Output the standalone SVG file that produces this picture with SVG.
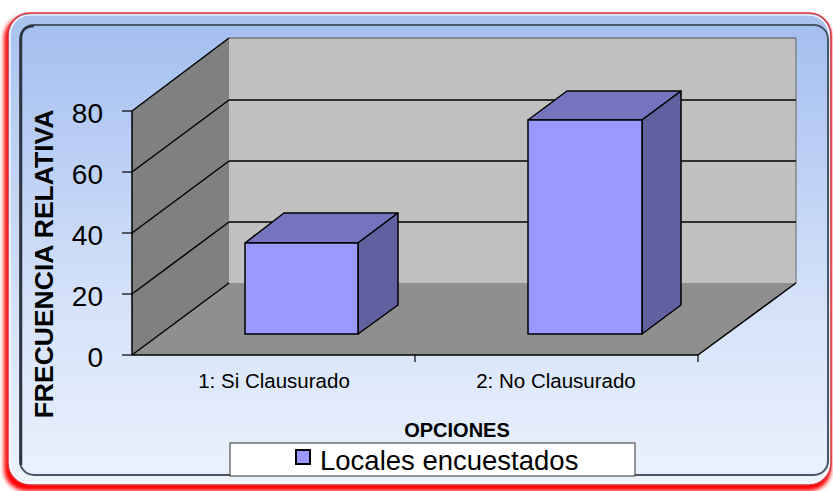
<svg xmlns="http://www.w3.org/2000/svg" width="833" height="491" viewBox="0 0 833 491">
<defs>
<linearGradient id="bg" x1="0" y1="0" x2="0" y2="1">
<stop offset="0" stop-color="#a4bff0"/>
<stop offset="0.6" stop-color="#d3e1f9"/>
<stop offset="1" stop-color="#eaf1fd"/>
</linearGradient>
<linearGradient id="rim" x1="0" y1="0" x2="0" y2="1">
<stop offset="0" stop-color="#a9c3ee"/>
<stop offset="1" stop-color="#eef3fb"/>
</linearGradient>
<filter id="blur" x="-5%" y="-5%" width="110%" height="110%">
<feGaussianBlur stdDeviation="2"/>
</filter>
<style>
.ax{font-family:"Liberation Sans",Arial,sans-serif;fill:#000}
.grid{stroke:#000;stroke-width:1.5;fill:none}
.bar{stroke:#000;stroke-width:1.5;stroke-linejoin:round}
.front{fill:#9999ff}
.top{fill:#7474bf}
.side{fill:#6161a0}
</style>
</defs>
<g id="frame">
<rect x="4" y="16" width="827" height="475" rx="22" fill="#ff0000" filter="url(#blur)"/>
<rect x="8" y="13" width="823" height="472" rx="22" fill="url(#rim)" stroke="#e0303a" stroke-width="1.5"/>
<rect x="10" y="15" width="819" height="468" rx="20" fill="none" stroke="#ffffff" stroke-width="1.2"/>
<rect x="20" y="25" width="808" height="450" rx="14" fill="url(#bg)" stroke="#4a5566" stroke-width="2"/>
<path d="M21,465 V39 Q21,26 34,26" fill="none" stroke="#2c3440" stroke-width="2.5"/>
</g>
<g id="walls">
<polygon points="229,38 796,38 796,283 229,283" fill="#c0c0c0"/>
<polygon points="132,111 229,38 229,283 132,355" fill="#808080"/>
<polygon points="132,355 229,283 796,283 698,355" fill="#8f8f8f"/>
<line x1="229" y1="38" x2="796" y2="38" stroke="#555" stroke-width="1.2"/>
<line x1="796" y1="38" x2="796" y2="283" stroke="#777" stroke-width="1.2"/>
</g>
<g id="connectors">
<line class="grid" x1="229" y1="100" x2="796" y2="100"/>
<line class="grid" x1="229" y1="161" x2="796" y2="161"/>
<line class="grid" x1="229" y1="222" x2="796" y2="222"/>
<line class="grid" x1="132" y1="111" x2="229" y2="38"/>
<line class="grid" x1="132" y1="172" x2="229" y2="100"/>
<line class="grid" x1="132" y1="233" x2="229" y2="161"/>
<line class="grid" x1="132" y1="294" x2="229" y2="222"/>
<line class="grid" x1="132" y1="355" x2="229" y2="283"/>
<line class="grid" x1="698" y1="355" x2="796" y2="283"/>
<line class="grid" x1="132" y1="111" x2="132" y2="355"/>
<line class="grid" x1="132" y1="355" x2="698" y2="355"/>
<g stroke="#000" stroke-width="1.2">
<line x1="122" y1="111" x2="132" y2="111"/>
<line x1="122" y1="172" x2="132" y2="172"/>
<line x1="122" y1="233" x2="132" y2="233"/>
<line x1="122" y1="294" x2="132" y2="294"/>
<line x1="122" y1="355" x2="132" y2="355"/>
<line x1="415" y1="355" x2="415" y2="362"/>
<line x1="698" y1="355" x2="698" y2="362"/>
</g>
</g>
<g id="bar1">
<polygon class="bar top" points="245,243 284,213 398,213 358,243"/>
<polygon class="bar side" points="358,243 398,213 398,305 358,334"/>
<rect class="bar front" x="245" y="243" width="113" height="91"/>
</g>
<g id="bar2">
<polygon class="bar top" points="528,120 567,91 681,91 642,120"/>
<polygon class="bar side" points="642,120 681,91 681,305 642,334"/>
<rect class="bar front" x="528" y="120" width="114" height="214"/>
</g>
<g id="yaxis" class="ax" font-size="28" text-anchor="end">
<text x="103" y="123">80</text>
<text x="103" y="184">60</text>
<text x="103" y="245">40</text>
<text x="103" y="306">20</text>
<text x="103" y="367">0</text>
</g>
<g id="ytitle">
<text class="ax" transform="translate(53,264) rotate(-90)" text-anchor="middle" font-size="26.5" font-weight="bold">FRECUENCIA RELATIVA</text>
</g>
<g id="xlabels" class="ax" font-size="20.5" text-anchor="middle">
<text x="274" y="388">1: Si Clausurado</text>
<text x="556" y="388">2: No Clausurado</text>
</g>
<g id="xtitle">
<text class="ax" x="457" y="437" font-size="20" font-weight="bold" text-anchor="middle">OPCIONES</text>
</g>
<g id="legend">
<rect x="230" y="443" width="405" height="33" fill="#ffffff" stroke="#333" stroke-width="1"/>
<rect x="296" y="450" width="14" height="14" fill="#9999ff" stroke="#000" stroke-width="2"/>
<text class="ax" x="320" y="470" font-size="27.5">Locales encuestados</text>
</g>
</svg>
